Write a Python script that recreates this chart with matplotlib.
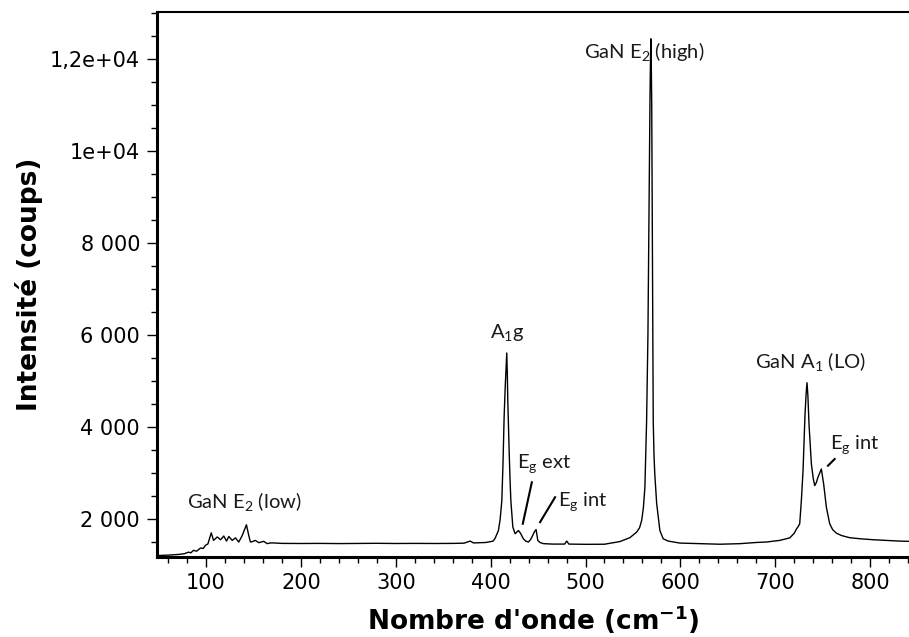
import matplotlib
matplotlib.use("Agg")
import matplotlib.pyplot as plt
from matplotlib.ticker import MultipleLocator, FuncFormatter

# Raman spectrum
wavenumber = [48, 60, 71, 77, 81.6, 84, 86.8, 90, 94.2, 97, 99.5, 102, 105.5, 107.9,
              111.8, 115.3, 118.7, 121.6, 124, 127.6, 131, 134.5, 138.1, 142.6, 145,
              146.8, 149, 152, 155.6, 158, 160.8, 164.4, 168, 171.4, 180, 200, 220,
              240, 260, 280, 300, 320, 340, 360, 372, 378.4, 382, 395, 402.6, 404.7,
              408.2, 410, 411.8, 413, 414.2, 415.4, 416.3, 417, 417.6, 418.1, 419.5,
              420.4, 421.3, 423.4, 425.8, 429.3, 431.5, 434.5, 437, 439.8, 442, 444.4,
              446.3, 447.9, 449.7, 452, 455.6, 465, 478, 480.2, 482.5, 500, 520, 536.3,
              546.8, 553.9, 557, 559.2, 561, 562.6, 564.4, 565.8, 567, 568, 568.5,
              568.9, 569.3, 569.8, 570.6, 571.4, 572.2, 573, 575, 578.4, 581.9, 587.2,
              599.5, 620, 641.6, 662.6, 680, 690.7, 704.7, 715.3, 720, 722.3, 724,
              725.8, 727.5, 729.3, 731.4, 732.6, 733.5, 734.4, 735.6, 738.1, 740,
              741.6, 743.3, 745, 748.6, 751.1, 753.9, 757.4, 760.5, 764.4, 770, 778.4,
              790, 803, 831, 841]
intensity = [1215, 1225, 1240, 1255, 1290, 1275, 1330, 1310, 1380, 1370, 1440, 1470,
             1710, 1545, 1620, 1560, 1640, 1530, 1630, 1545, 1600, 1510, 1650, 1885,
             1655, 1510, 1520, 1545, 1495, 1510, 1525, 1475, 1490, 1490, 1480, 1478,
             1480, 1476, 1478, 1482, 1478, 1480, 1478, 1480, 1485, 1530, 1490, 1500,
             1530, 1590, 1760, 2000, 2410, 3200, 4215, 4900, 5300, 5620, 5150, 4575,
             3490, 2900, 2410, 1835, 1690, 1760, 1700, 1580, 1530, 1510, 1560, 1655,
             1740, 1780, 1545, 1500, 1475, 1465, 1465, 1530, 1465, 1460, 1462, 1520,
             1605, 1725, 1820, 1980, 2250, 2700, 4140, 6000, 8800, 11200, 12000, 12450,
             12000, 11000, 7500, 4140, 3400, 3000, 2350, 1760, 1580, 1530, 1487, 1475,
             1462, 1474, 1500, 1510, 1545, 1600, 1700, 1790, 1840, 1907, 2400, 3060,
             4290, 4750, 4973, 4700, 4070, 3205, 2900, 2736, 2800, 2916, 3097, 2762,
             2266, 1907, 1780, 1703, 1650, 1604, 1580, 1560, 1530, 1525]

# peak labels: (text, x, y, horizontal alignment)
peak_labels = [
    ("GaN E$_2$ (low)", 80, 2375, "left"),
    ("A$_1$g", 418, 6055, "center"),
    ("E$_\\mathrm{g}$ ext", 427.5, 3205, "left"),
    ("E$_\\mathrm{g}$ int", 471, 2375, "left"),
    ("GaN E$_2$ (high)", 562, 12154, "center"),
    ("GaN A$_1$ (LO)", 737, 5405, "center"),
    ("E$_\\mathrm{g}$ int", 757.4, 3602, "left"),
]
# leader lines: (x0, y0, x1, y1)
leader_lines = [
    (443.4, 2808, 433.9, 1907),
    (467.9, 2483, 452.1, 1942),
    (762.6, 3314, 755.6, 3169),
]

plt.rcParams["mathtext.fontset"] = "custom"
plt.rcParams["mathtext.rm"] = "Lato"
plt.rcParams["mathtext.bf"] = "DejaVu Sans:bold"


def y_fmt(v, pos):
    if v >= 10000:
        s = "%.1fe+04" % (v / 10000)
        s = s.replace(".0e", "e").replace(".", ",")
        return s
    return "{:,}".format(int(v)).replace(",", " ")


fig = plt.figure(figsize=(9.09, 6.37), dpi=100)
ax = fig.add_axes([0.1724, 0.126, 0.8276, 0.855])

ax.plot(wavenumber, intensity, color="black", lw=1.0)

ax.set_xlim(48, 841)
ax.set_ylim(1190, 13030)

ax.xaxis.set_major_locator(MultipleLocator(100))
ax.xaxis.set_minor_locator(MultipleLocator(20))
ax.yaxis.set_major_locator(MultipleLocator(2000))
ax.yaxis.set_minor_locator(MultipleLocator(500))
ax.yaxis.set_major_formatter(FuncFormatter(y_fmt))

ax.tick_params(which="major", length=7, width=1, labelsize=15, pad=5)
ax.tick_params(which="minor", length=4, width=1)
ax.tick_params(top=False, right=False)

ax.spines["right"].set_visible(False)
ax.spines["left"].set_linewidth(2.2)
ax.spines["bottom"].set_linewidth(2.2)
ax.spines["top"].set_linewidth(1.5)

ax.set_xlabel("Nombre d'onde (cm$^{\\mathbf{-1}}$)", fontsize=19, fontweight="bold",
              labelpad=7)
ax.set_ylabel("Intensité (coups)", fontsize=19, fontweight="bold", labelpad=5)

for txt, x, y, ha in peak_labels:
    ax.text(x, y, txt, ha=ha, va="center", fontsize=14.5, family="Lato",
            color="#1a1a1a")

for x0, y0, x1, y1 in leader_lines:
    ax.plot([x0, x1], [y0, y1], color="black", lw=1.5)

fig.savefig("out.png", dpi=100)
